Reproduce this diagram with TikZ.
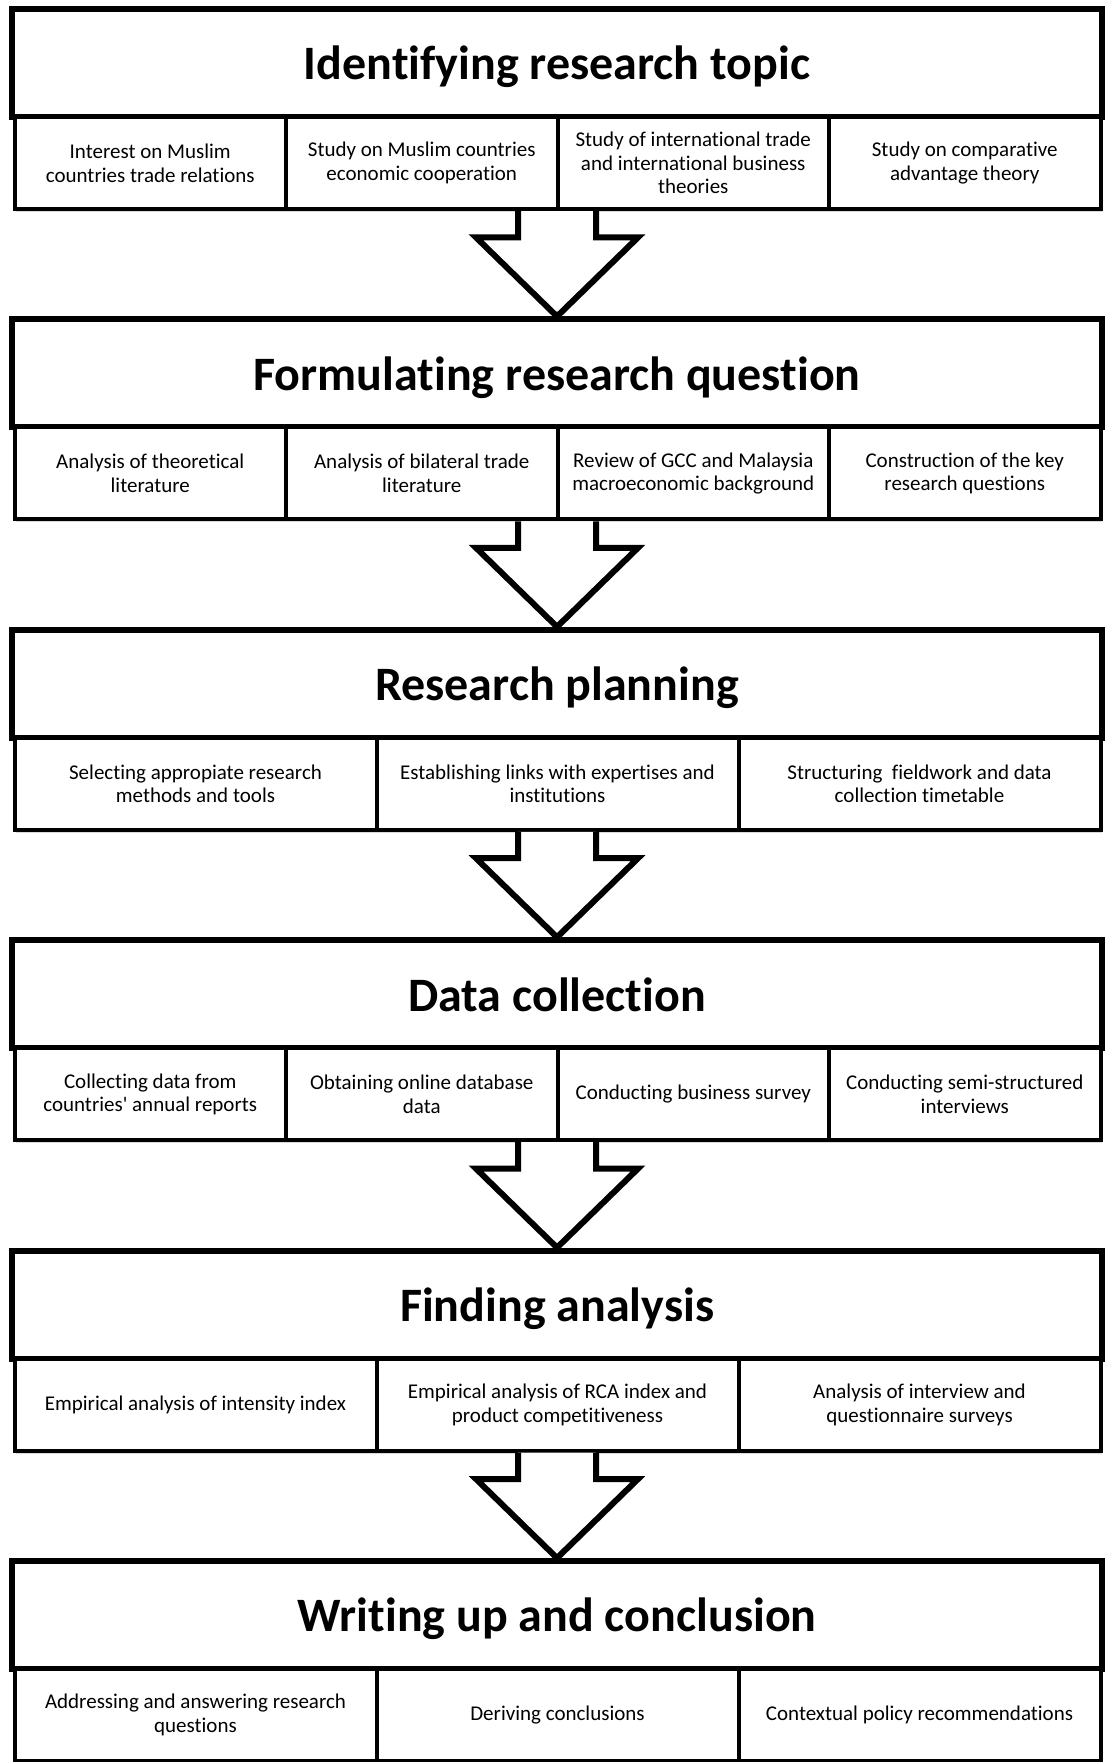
\documentclass[tikz,border=0pt]{standalone}
\usepackage{fontspec}
\setmainfont{Carlito}[Ligatures={NoCommon}]
\usetikzlibrary{calc,shadows}

\begin{document}
\begin{tikzpicture}[x=1pt, y=-1pt,
    stagehead/.style={rectangle, draw, line width=6pt, fill=white, minimum width=1090pt, minimum height=108pt, text depth=0pt, font=\fontsize{48}{56}\selectfont\bfseries, drop shadow={shadow xshift=1.5pt, shadow yshift=-3pt, opacity=0.3}},
    stagestep/.style={rectangle, draw, line width=4pt, fill=white, minimum height=92pt, align=center, font=\fontsize{21}{23.6}\selectfont, drop shadow={shadow xshift=1.5pt, shadow yshift=-3pt, opacity=0.3}},
    fourstep/.style={stagestep, minimum width=271.5pt},
    threestep/.style={stagestep, minimum width=362pt},
    bigarrow/.style={draw, line width=6pt, fill=white, drop shadow={shadow xshift=1.5pt, shadow yshift=-3pt, opacity=0.25}}]
    \useasboundingbox (0,0) rectangle (1104,1762);

    % Identifying research topic
    \node[stagehead] (TOPIC) at (557,63) {Identifying research topic};
    \node[fourstep] (TOPIC1) at (150.25,163) {Interest on Muslim\\countries trade relations};
    \node[fourstep] (TOPIC2) at (421.75,163) {Study on Muslim countries\\economic cooperation};
    \node[fourstep] (TOPIC3) at (693.25,163) {Study of international trade\\and international business\\theories};
    \node[fourstep] (TOPIC4) at (964.75,163) {Study on comparative\\advantage theory};

    % Formulating research question
    \node[stagehead] (QUESTION) at (557,373.4) {Formulating research question};
    \node[fourstep] (QUESTION1) at (150.25,473.4) {Analysis of theoretical\\literature};
    \node[fourstep] (QUESTION2) at (421.75,473.4) {Analysis of bilateral trade\\literature};
    \node[fourstep] (QUESTION3) at (693.25,473.4) {Review of GCC and Malaysia\\macroeconomic background};
    \node[fourstep] (QUESTION4) at (964.75,473.4) {Construction of the key\\research questions};

    % Research planning
    \node[stagehead] (PLANNING) at (557,683.8) {Research planning};
    \node[threestep] (PLANNING1) at (195.5,783.8) {Selecting appropiate research\\methods and tools};
    \node[threestep] (PLANNING2) at (557.5,783.8) {Establishing links with expertises and\\institutions};
    \node[threestep] (PLANNING3) at (919.5,783.8) {Structuring\ \ fieldwork and data\\collection timetable};

    % Data collection
    \node[stagehead] (COLLECTION) at (557,994.2) {Data collection};
    \node[fourstep] (COLLECTION1) at (150.25,1094.2) {Collecting data from\\countries\textquotesingle{} annual reports};
    \node[fourstep] (COLLECTION2) at (421.75,1094.2) {Obtaining online database\\data};
    \node[fourstep] (COLLECTION3) at (693.25,1094.2) {Conducting business survey};
    \node[fourstep] (COLLECTION4) at (964.75,1094.2) {Conducting semi-structured\\interviews};

    % Finding analysis
    \node[stagehead] (ANALYSIS) at (557,1304.6) {Finding analysis};
    \node[threestep] (ANALYSIS1) at (195.5,1404.6) {Empirical analysis of intensity index};
    \node[threestep] (ANALYSIS2) at (557.5,1404.6) {Empirical analysis of RCA index and\\product competitiveness};
    \node[threestep] (ANALYSIS3) at (919.5,1404.6) {Analysis of interview and\\questionnaire surveys};

    % Writing up and conclusion
    \node[stagehead] (WRITING) at (557,1615) {Writing up and conclusion};
    \node[threestep] (WRITING1) at (195.5,1715) {Addressing and answering research\\questions};
    \node[threestep] (WRITING2) at (557.5,1715) {Deriving conclusions};
    \node[threestep] (WRITING3) at (919.5,1715) {Contextual policy recommendations};

    % Arrows between stages
    \draw[bigarrow] ($(QUESTION.north |- TOPIC1.south)+(-39,0)$) |- ($(QUESTION.north)+(-81,-79)$) -- (QUESTION.north) -- ++(81,-79) -| ($(QUESTION.north |- TOPIC1.south)+(39,0)$);
    \draw[bigarrow] ($(PLANNING.north |- QUESTION1.south)+(-39,0)$) |- ($(PLANNING.north)+(-81,-79)$) -- (PLANNING.north) -- ++(81,-79) -| ($(PLANNING.north |- QUESTION1.south)+(39,0)$);
    \draw[bigarrow] ($(COLLECTION.north |- PLANNING1.south)+(-39,0)$) |- ($(COLLECTION.north)+(-81,-79)$) -- (COLLECTION.north) -- ++(81,-79) -| ($(COLLECTION.north |- PLANNING1.south)+(39,0)$);
    \draw[bigarrow] ($(ANALYSIS.north |- COLLECTION1.south)+(-39,0)$) |- ($(ANALYSIS.north)+(-81,-79)$) -- (ANALYSIS.north) -- ++(81,-79) -| ($(ANALYSIS.north |- COLLECTION1.south)+(39,0)$);
    \draw[bigarrow] ($(WRITING.north |- ANALYSIS1.south)+(-39,0)$) |- ($(WRITING.north)+(-81,-79)$) -- (WRITING.north) -- ++(81,-79) -| ($(WRITING.north |- ANALYSIS1.south)+(39,0)$);
\end{tikzpicture}
\end{document}
